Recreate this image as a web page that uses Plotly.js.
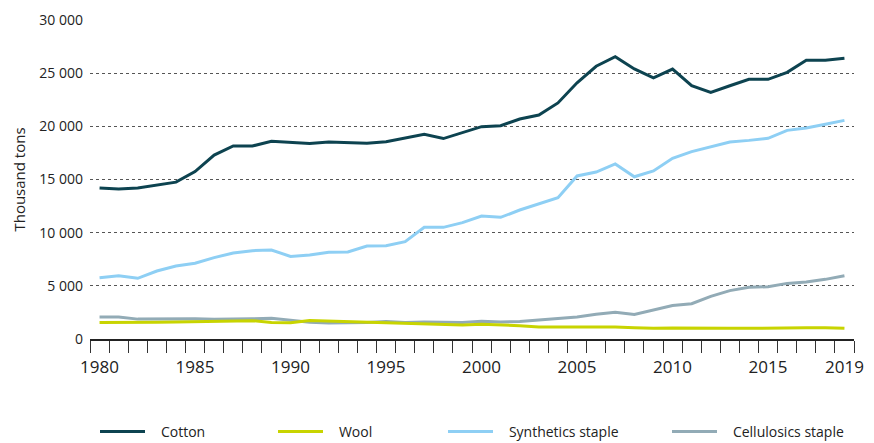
<!DOCTYPE html>
<html>
<head>
<meta charset="utf-8">
<script src="https://cdn.plot.ly/plotly-3.0.1.min.js"></script>
<style>html,body{margin:0;padding:0;background:#fff;}#chart{width:874px;height:443px;}</style>
</head>
<body>
<div id="chart"></div>
<script>
const years = [];
for (let y = 1980; y <= 2019; y++) years.push(y);

const cotton = [14200, 14100, 14200, 14500, 14750, 15750, 17300, 18150, 18150, 18600,
  18470, 18380, 18530, 18500, 18400, 18550, 18930, 19250, 18850, 19440,
  19970, 20060, 20690, 21060, 22200, 24100, 25650, 26550, 25400, 24550,
  25380, 23820, 23200, 23820, 24420, 24420, 25080, 26210, 26210, 26400];
const wool = [1540, 1530, 1520, 1580, 1610, 1650, 1700, 1740, 1720, 1560,
  1520, 1750, 1700, 1650, 1600, 1540, 1440, 1450, 1380, 1310,
  1380, 1340, 1250, 1120, 1130, 1150, 1150, 1120, 1060, 1000,
  1030, 1000, 960, 1000, 1000, 1040, 1050, 1050, 1060, 1000];
const synthetics = [5770, 5950, 5710, 6390, 6860, 7120, 7650, 8090, 8310, 8370,
  7770, 7900, 8150, 8180, 8750, 8780, 9150, 10500, 10500, 10940,
  11570, 11440, 12130, 12700, 13290, 15330, 15700, 16460, 15260, 15800,
  16990, 17620, 18060, 18530, 18680, 18870, 19620, 19840, 20190, 20560];
const cellulosics = [2070, 2070, 1870, 1900, 1940, 1900, 1860, 1860, 1900, 1950,
  1780, 1570, 1500, 1500, 1560, 1650, 1560, 1600, 1580, 1550,
  1680, 1600, 1650, 1780, 1940, 2070, 2320, 2520, 2300, 2700,
  3150, 3320, 4010, 4550, 4860, 4920, 5230, 5360, 5610, 5950];

const seriesNames = ['Cotton', 'Wool', 'Synthetics staple', 'Cellulosics staple'];
const seriesColors = ['#0d4350', '#c8d400', '#8ecff4', '#92abb6'];
const xTickVals = [1980, 1985, 1990, 1995, 2000, 2005, 2010, 2015, 2019];
const yTickVals = [0, 5000, 10000, 15000, 20000, 25000, 30000];
const yTickText = ['0', '5 000', '10 000', '15 000', '20 000', '25 000', '30 000'];

const values = [cotton, wool, synthetics, cellulosics];
const legendIds = ['legend', 'legend2', 'legend3', 'legend4'];
const pad = '\u00a0\u00a0\u00a0';
const traces = values.map((v, i) => ({
  x: years, y: v, type: 'scatter', mode: 'lines', name: pad + seriesNames[i],
  line: {color: seriesColors[i], width: 3},
  legend: legendIds[i], hoverinfo: 'skip'
}));
const ordered = [traces[3], traces[1], traces[2], traces[0]];

const font = {family: '"Open Sans", sans-serif', size: 14, color: '#222'};
const legendXs = [95, 273, 443, 667];
const legendBase = (px) => ({
  orientation: 'h', x: (px - 90) / 764, xanchor: 'left', y: -0.2915, yanchor: 'middle',
  font: {family: '"Open Sans", sans-serif', size: 14, color: '#222'},
  bgcolor: 'rgba(0,0,0,0)', itemwidth: 45, itemclick: false, itemdoubleclick: false
});

const layout = {
  width: 874, height: 443,
  margin: {l: 90, r: 20, t: 20, b: 104, autoexpand: false},
  paper_bgcolor: '#fff', plot_bgcolor: '#fff',
  font: font,
  showlegend: true,
  xaxis: {
    type: 'linear', range: [1979.5, 2019.5],
    tickvals: xTickVals, ticktext: xTickVals.map(String),
    ticks: 'outside', ticklen: 12, tickcolor: 'rgba(0,0,0,0)',
    tickfont: {family: '"Open Sans", sans-serif', size: 17, color: '#222'},
    showgrid: false, zeroline: false,
    showline: true, linecolor: '#222', linewidth: 1.5,
    minor: {tick0: 1979.5, dtick: 1, ticks: 'outside', ticklen: 12, tickcolor: '#333', tickwidth: 1, showgrid: false},
    fixedrange: true
  },
  yaxis: {
    range: [0, 30000],
    tickvals: yTickVals, ticktext: yTickText,
    tickfont: {family: '"Open Sans", sans-serif', size: 14, color: '#222'},
    showgrid: true, gridcolor: '#555', griddash: 'dot', gridwidth: 1,
    zeroline: false, showline: false,
    ticks: '', ticklabelstandoff: 6,
    title: {text: 'Thousand tons', font: {family: '"Open Sans", sans-serif', size: 15, color: '#222'}, standoff: 10},
    fixedrange: true
  },
  legend: legendBase(legendXs[0]),
  legend2: legendBase(legendXs[1]),
  legend3: legendBase(legendXs[2]),
  legend4: legendBase(legendXs[3])
};

Plotly.newPlot('chart', ordered, layout, {displayModeBar: false, staticPlot: true});
</script>
</body>
</html>
